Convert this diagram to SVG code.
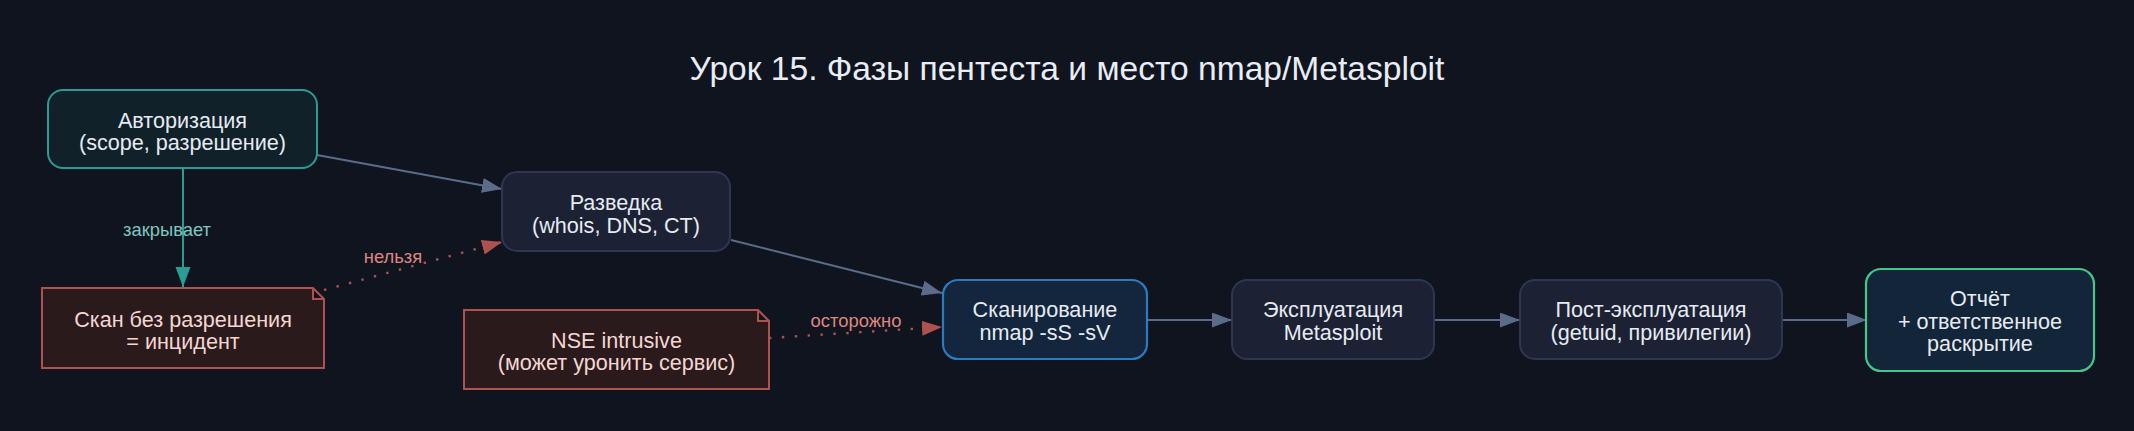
<svg xmlns="http://www.w3.org/2000/svg" width="2134" height="431" viewBox="0 0 2134 431">
<style>
.bg{fill:#10141f}
.t{font-family:"Liberation Sans",Arial,sans-serif;text-anchor:middle}
.title{font-size:33.6px;fill:#e8edf5}
.nt{font-size:21.6px;fill:#e6ebf3}
.ntn{font-size:21.6px;fill:#f3d6d2}
.lbl{font-size:18.4px}
.node{fill:#1c2233;stroke:#2d3850;stroke-width:2}
.auth{fill:#11212a;stroke:#2b9b96;stroke-width:2}
.scan{fill:#13263d;stroke:#2b7bc0;stroke-width:2.2}
.rep{fill:#132538;stroke:#45c68a;stroke-width:2.2}
.note{fill:#2b1a1c;stroke:#ad524e;stroke-width:2}
.e{fill:none;stroke:#5c6b8a;stroke-width:2}
.et{fill:none;stroke:#2b9b96;stroke-width:2}
.ed{fill:none;stroke:#ad524e;stroke-width:2.4;stroke-dasharray:2.4 10.5}
</style>
<defs>
<marker id="aS" markerUnits="userSpaceOnUse" markerWidth="21" markerHeight="16" refX="20" refY="7.5" orient="auto"><path d="M0,0 L20,7.5 L0,15 z" fill="#5c6b8a"/></marker>
<marker id="aT" markerUnits="userSpaceOnUse" markerWidth="21" markerHeight="16" refX="20" refY="7.5" orient="auto"><path d="M0,0 L20,7.5 L0,15 z" fill="#2b9b96"/></marker>
<marker id="aR" markerUnits="userSpaceOnUse" markerWidth="21" markerHeight="16" refX="20" refY="7.5" orient="auto"><path d="M0,0 L20,7.5 L0,15 z" fill="#ad524e"/></marker>
</defs>
<rect class="bg" x="0" y="0" width="2134" height="431"/>
<text class="t title" x="1067" y="80">Урок 15. Фазы пентеста и место nmap/Metasploit</text>

<g id="edges">
<path class="e" d="M317,155 L502,189" marker-end="url(#aS)"/>
<path class="et" d="M183,168 L183,287" marker-end="url(#aT)"/>
<text class="t lbl" x="167" y="236" fill="#7cc7bf">закрывает</text>
<path class="ed" d="M324,290 L502,242" marker-end="url(#aR)"/>
<text class="t lbl" x="393" y="263" fill="#de8680">нельзя</text>
<path class="e" d="M731,240 L942,293" marker-end="url(#aS)"/>
<path class="ed" d="M769,338 L942,327" marker-end="url(#aR)"/>
<text class="t lbl" x="856" y="327" fill="#de8680">осторожно</text>
<path class="e" d="M1147,320 L1232,320" marker-end="url(#aS)"/>
<path class="e" d="M1434,320 L1520,320" marker-end="url(#aS)"/>
<path class="e" d="M1782,320 L1867,320" marker-end="url(#aS)"/>
</g>

<g id="auth">
<rect class="auth" x="48" y="90" width="269" height="78" rx="15"/>
<text class="t nt" x="182.5" y="128">Авторизация</text>
<text class="t nt" x="182.5" y="150">(scope, разрешение)</text>
</g>

<g id="recon">
<rect class="node" x="502" y="172" width="228" height="79" rx="15"/>
<text class="t nt" x="616" y="210">Разведка</text>
<text class="t nt" x="616" y="232.5">(whois, DNS, CT)</text>
</g>

<g id="noauth">
<path class="note" d="M42,288 L313,288 L324,299 L324,368 L42,368 Z M313,288 L313,299 L324,299"/>
<text class="t ntn" x="183" y="327">Скан без разрешения</text>
<text class="t ntn" x="183" y="349">= инцидент</text>
</g>

<g id="nse">
<path class="note" d="M464,310 L758,310 L769,321 L769,389 L464,389 Z M758,310 L758,321 L769,321"/>
<text class="t ntn" x="616.5" y="347.5">NSE intrusive</text>
<text class="t ntn" x="616.5" y="369.5">(может уронить сервис)</text>
</g>

<g id="scan">
<rect class="scan" x="943" y="280" width="204" height="79" rx="15"/>
<text class="t nt" x="1045" y="317">Сканирование</text>
<text class="t nt" x="1045" y="340">nmap -sS -sV</text>
</g>

<g id="exploit">
<rect class="node" x="1232" y="280" width="202" height="79" rx="15"/>
<text class="t nt" x="1333" y="317">Эксплуатация</text>
<text class="t nt" x="1333" y="340">Metasploit</text>
</g>

<g id="post">
<rect class="node" x="1520" y="280" width="262" height="79" rx="15"/>
<text class="t nt" x="1651" y="317">Пост-эксплуатация</text>
<text class="t nt" x="1651" y="340">(getuid, привилегии)</text>
</g>

<g id="report">
<rect class="rep" x="1866" y="269" width="228" height="102" rx="15"/>
<text class="t nt" x="1980" y="306">Отчёт</text>
<text class="t nt" x="1980" y="329">+ ответственное</text>
<text class="t nt" x="1980" y="351">раскрытие</text>
</g>
</svg>
